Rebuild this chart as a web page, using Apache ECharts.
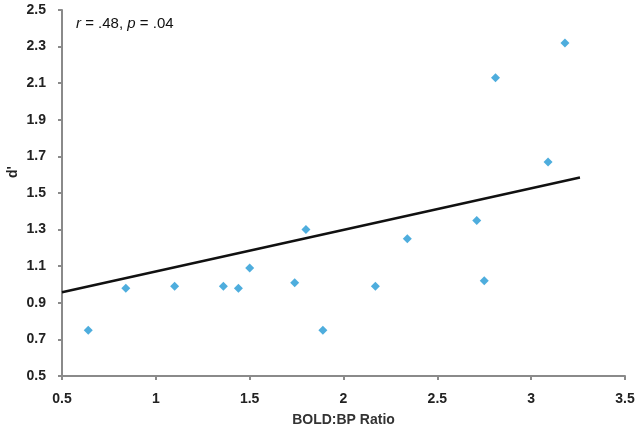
<!DOCTYPE html>
<html>
<head>
<meta charset="utf-8">
<script src="https://cdn.jsdelivr.net/npm/echarts@6/dist/echarts.min.js"></script>
<style>
html,body{margin:0;padding:0;background:#fff;}
#chart{width:640px;height:432px;}
</style>
</head>
<body>
<div id="chart"></div>
<script>
// Data
var boldBpRatio = [0.64, 0.84, 1.10, 1.36, 1.44, 1.50, 1.74, 1.80, 1.89, 2.17, 2.34, 2.71, 2.75, 2.81, 3.09, 3.18];
var dPrime      = [0.75, 0.98, 0.99, 0.99, 0.98, 1.09, 1.01, 1.30, 0.75, 0.99, 1.25, 1.35, 1.02, 2.13, 1.67, 2.32];
// Trend line end points (as drawn)
var trendX = [0.5, 3.26];
var trendY = [0.958, 1.585];
var annotation = "{i|r} = .48, {i|p} = .04";
var xAxisTitle = "BOLD:BP Ratio";
var yAxisTitle = "d'";

var points = boldBpRatio.map(function (x, i) { return [x, dPrime[i]]; });
var trend = trendX.map(function (x, i) { return [x, trendY[i]]; });

var FONT = "'Liberation Sans', Arial, sans-serif";
var chart = echarts.init(document.getElementById('chart'), null, {renderer: 'canvas'});
chart.setOption({
  animation: false,
  backgroundColor: '#ffffff',
  grid: {left: 62, right: 15, top: 10, bottom: 54, containLabel: false},
  xAxis: {
    type: 'value', min: 0.5, max: 3.5, interval: 0.5,
    name: xAxisTitle, nameLocation: 'middle', nameGap: 37,
    nameTextStyle: {fontFamily: FONT, fontSize: 14, fontWeight: 'bold', color: '#333'},
    axisLine: {show: true, onZero: false, lineStyle: {color: '#8a8a8a', width: 2}},
    axisTick: {show: true, inside: false, length: 4, lineStyle: {color: '#8a8a8a', width: 2}},
    axisLabel: {fontFamily: FONT, fontSize: 14, fontWeight: 'bold', color: '#222', margin: 16,
      formatter: function (v) { return String(+v.toFixed(1)); }},
    splitLine: {show: false}
  },
  yAxis: {
    type: 'value', min: 0.5, max: 2.5, interval: 0.2,
    axisLine: {show: true, onZero: false, lineStyle: {color: '#8a8a8a', width: 2}},
    axisTick: {show: true, inside: false, length: 4, lineStyle: {color: '#8a8a8a', width: 2}},
    axisLabel: {fontFamily: FONT, fontSize: 14, fontWeight: 'bold', color: '#222', margin: 16,
      formatter: function (v) { return v.toFixed(1); }},
    splitLine: {show: false}
  },
  graphic: [
    {type: 'text', x: 76, y: 24,
     style: {text: annotation, font: '15px ' + FONT, fill: '#111', verticalAlign: 'middle', align: 'left',
       rich: {i: {fontStyle: 'italic', fontSize: 15, fontFamily: FONT, fill: '#111'}}}},
    {type: 'text', x: 13, y: 172, rotation: Math.PI / 2,
     style: {text: yAxisTitle, font: 'bold 14px ' + FONT, fill: '#222', align: 'center', verticalAlign: 'middle'}}
  ],
  series: [
    {type: 'line', data: trend, symbol: 'none', silent: true,
     lineStyle: {color: '#111', width: 2.5}, z: 2},
    {type: 'scatter', data: points, symbol: 'diamond', symbolSize: 9,
     itemStyle: {color: '#2299d4'}, z: 3}
  ]
});
</script>
</body>
</html>
